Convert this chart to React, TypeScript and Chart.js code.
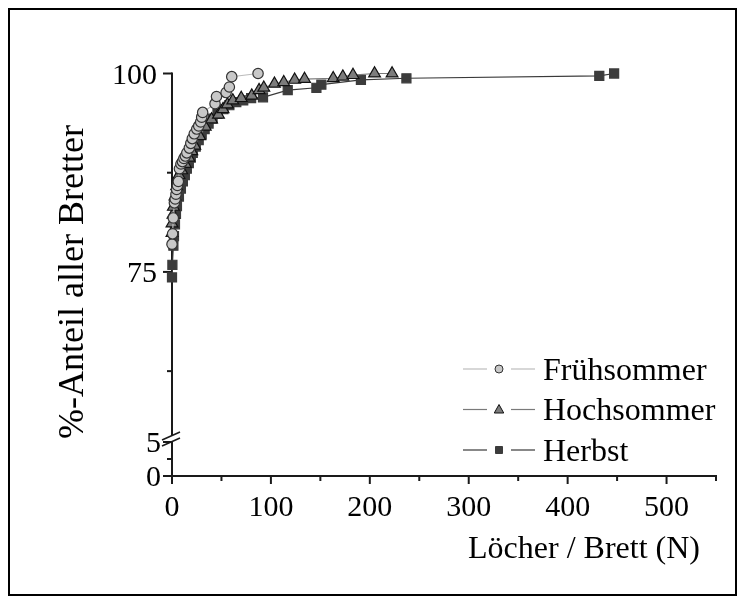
import React, { useEffect, useRef } from 'react';
import { Chart, registerables } from 'chart.js';

Chart.register(...registerables);

// ---------- data ----------
const SERIES_NAMES = ['Frühsommer', 'Hochsommer', 'Herbst'];

const FRUEH_X = [0, 0.6, 1.3, 2.4, 3.2, 4, 4.7, 5.5, 6.4, 7.5, 9, 10.5, 12, 13.5, 15, 17.5, 19, 20.5, 22.5, 25, 27, 29, 30, 31, 43.5, 45, 54.7, 58, 60.4, 87];
const FRUEH_Y = [78.5, 79.8, 81.8, 83.7, 84.2, 84.8, 85.4, 85.9, 86.4, 88.0, 88.6, 88.9, 89.3, 89.6, 90.0, 90.6, 91.2, 91.8, 92.4, 93.0, 93.4, 93.9, 94.5, 95.1, 96.2, 97.1, 97.6, 98.3, 99.6, 100];

const HOCH_X = [0, 0, 1, 1.4, 3, 4.7, 7, 9.8, 13.5, 17, 20, 23, 28, 33.6, 40, 47, 51.6, 56, 61.5, 70, 80.6, 88, 92.8, 103.6, 113, 124, 134, 163, 172.7, 183, 204.8, 222.5];
const HOCH_Y = [79.9, 81.1, 82.2, 83.2, 84.5, 85.8, 87.2, 87.8, 88.6, 89.4, 90.2, 90.9, 92.1, 93.3, 94.2, 94.8, 95.5, 96.1, 96.6, 96.9, 97.2, 97.9, 98.2, 98.7, 98.9, 99.2, 99.3, 99.4, 99.6, 99.8, 100, 100];

const HERBST_X = [0, 0.4, 1.4, 2, 3, 4, 5, 7, 9, 11, 13, 15, 17, 19, 21, 24, 27, 30, 33, 37, 41, 46, 52, 58, 65, 72, 80, 92, 117, 146, 151, 191, 237, 432, 447];
const HERBST_Y = [74.3, 75.9, 78.3, 79.5, 81, 82.3, 83.3, 84.5, 85.5, 86.4, 87.2, 88, 88.7, 89.4, 90, 90.8, 91.6, 92.3, 93, 93.7, 94.3, 94.9, 95.5, 96, 96.4, 96.6, 96.9, 97.0, 97.9, 98.2, 98.6, 99.2, 99.4, 99.7, 100];

// ---------- axes / ticks ----------
const X_MIN = 0;
const X_MAX = 550;
const X_MAJOR = [0, 100, 200, 300, 400, 500];
const X_MINOR = [50, 150, 250, 350, 450, 550];
const Y_TOP_MIN = 54;
const Y_TOP_MAX = 100;
const Y_TOP_MAJOR = [75, 100];
const Y_TOP_MINOR = [62.5, 87.5];
const Y_BOT_MIN = 0;
const Y_BOT_MAX = 5.5;
const Y_BOT_MAJOR = [0, 5];
const Y_BOT_MINOR = [2.5];
const X_TITLE = 'Löcher / Brett (N)';
const Y_TITLE = '%-Anteil aller Bretter';

// ---------- styles ----------
const FONT = '"Liberation Serif", "Times New Roman", Times, serif';
const AXIS_COLOR = '#1a1a1a';
const TEXT_COLOR = '#000000';
const STYLES = [
  { point: 'circle', fill: '#c8c8c8', border: '#333333', line: '#bcbcbc', radius: 5.2, legendR: 4 },
  { point: 'triangle', fill: '#7c7c7c', border: '#111111', line: '#7a7a7a', radius: 6.8, legendR: 5 },
  { point: 'rect', fill: '#3c3c3c', border: '#3c3c3c', line: '#3a3a3a', radius: 6.4, legendR: 5 },
];

function seg(ctx: CanvasRenderingContext2D, ax: number, ay: number, bx: number, by: number) {
  ctx.beginPath();
  ctx.moveTo(ax, ay);
  ctx.lineTo(bx, by);
  ctx.stroke();
}

function marker(ctx: CanvasRenderingContext2D, style: string, x: number, y: number, r: number, fill: string, border: string) {
  ctx.fillStyle = fill;
  ctx.strokeStyle = border;
  ctx.lineWidth = 1;
  ctx.beginPath();
  if (style === 'circle') {
    ctx.arc(x, y, r, 0, Math.PI * 2);
  } else if (style === 'triangle') {
    ctx.moveTo(x, y - r);
    ctx.lineTo(x + r * 0.95, y + r * 0.7);
    ctx.lineTo(x - r * 0.95, y + r * 0.7);
    ctx.closePath();
  } else {
    ctx.rect(x - r * 0.7, y - r * 0.7, r * 1.4, r * 1.4);
  }
  ctx.fill();
  ctx.stroke();
}

const axesPlugin = {
  id: 'customAxes',
  beforeDatasetsDraw(chart: any) {
    const ctx: CanvasRenderingContext2D = chart.ctx;
    const xs = chart.scales.x;
    const yt = chart.scales.yTop;
    const yb = chart.scales.yBot;
    const x0 = xs.getPixelForValue(X_MIN);
    const xEnd = xs.getPixelForValue(X_MAX);
    const yZero = yb.getPixelForValue(Y_BOT_MIN);
    const yTopPx = yt.getPixelForValue(Y_TOP_MAX);
    const bc = yt.bottom;
    ctx.save();
    ctx.strokeStyle = AXIS_COLOR;
    ctx.lineWidth = 2;
    // y axis (broken)
    seg(ctx, x0, yTopPx - 1, x0, bc - 3);
    seg(ctx, x0, bc + 3, x0, yZero + 1);
    // x axis
    seg(ctx, x0 - 1, yZero, xEnd + 1, yZero);
    // y ticks
    Y_TOP_MAJOR.forEach((v) => { const y = yt.getPixelForValue(v); seg(ctx, x0 - 9, y, x0, y); });
    Y_TOP_MINOR.forEach((v) => { const y = yt.getPixelForValue(v); seg(ctx, x0 - 5, y, x0, y); });
    Y_BOT_MAJOR.forEach((v) => { const y = yb.getPixelForValue(v); seg(ctx, x0 - 9, y, x0, y); });
    Y_BOT_MINOR.forEach((v) => { const y = yb.getPixelForValue(v); seg(ctx, x0 - 5, y, x0, y); });
    // x ticks
    X_MAJOR.forEach((v) => { const x = xs.getPixelForValue(v); seg(ctx, x, yZero, x, yZero + 8); });
    X_MINOR.forEach((v) => { const x = xs.getPixelForValue(v); seg(ctx, x, yZero, x, yZero + 5); });
    // break marks
    ctx.lineWidth = 1.6;
    seg(ctx, x0 - 10, bc + 1.5, x0 + 8, bc - 6.5);
    seg(ctx, x0 - 10, bc + 7.5, x0 + 8, bc - 0.5);
    ctx.restore();
  },
  afterDraw(chart: any) {
    const ctx: CanvasRenderingContext2D = chart.ctx;
    const xs = chart.scales.x;
    const yt = chart.scales.yTop;
    const yb = chart.scales.yBot;
    const x0 = xs.getPixelForValue(X_MIN);
    const yZero = yb.getPixelForValue(Y_BOT_MIN);
    ctx.save();
    ctx.fillStyle = TEXT_COLOR;
    ctx.font = '30px ' + FONT;
    ctx.textBaseline = 'alphabetic';
    // y tick labels
    ctx.textAlign = 'right';
    Y_TOP_MAJOR.forEach((v) => ctx.fillText(String(v), x0 - 15, yt.getPixelForValue(v) + 10));
    Y_BOT_MAJOR.forEach((v) => ctx.fillText(String(v), x0 - 11, yb.getPixelForValue(v) + 10));
    // x tick labels
    ctx.textAlign = 'center';
    X_MAJOR.forEach((v) => ctx.fillText(String(v), xs.getPixelForValue(v), yZero + 40));
    // x title
    ctx.font = '32px ' + FONT;
    ctx.fillText(X_TITLE, 574, 547.5);
    // y title
    ctx.save();
    ctx.translate(73, 272);
    ctx.rotate(-Math.PI / 2);
    ctx.font = '36px ' + FONT;
    ctx.textAlign = 'center';
    ctx.fillText(Y_TITLE, 0, 0);
    ctx.restore();
    // legend
    SERIES_NAMES.forEach((name, i) => {
      const st = STYLES[i];
      const cy = 359 + i * 40.5;
      ctx.strokeStyle = st.line;
      ctx.lineWidth = 1.2;
      seg(ctx, 453, cy, 477, cy);
      seg(ctx, 501, cy, 525, cy);
      marker(ctx, st.point, 489, cy, st.legendR, st.fill, st.border);
      ctx.fillStyle = TEXT_COLOR;
      ctx.font = '32px ' + FONT;
      ctx.textAlign = 'left';
      ctx.fillText(name, 533, cy + 10.5);
    });
    ctx.restore();
  },
};

function points(xs: number[], ys: number[]) {
  return xs.map((x, i) => ({ x, y: ys[i] }));
}

export default function App() {
  const ref = useRef<HTMLCanvasElement>(null);
  useEffect(() => {
    const seriesData = [points(FRUEH_X, FRUEH_Y), points(HOCH_X, HOCH_Y), points(HERBST_X, HERBST_Y)];
    const chart = new Chart(ref.current as HTMLCanvasElement, {
      type: 'scatter',
      data: {
        datasets: SERIES_NAMES.map((name, i) => ({
          label: name,
          data: seriesData[i],
          yAxisID: 'yTop',
          showLine: true,
          borderColor: STYLES[i].line,
          borderWidth: 1.2,
          pointStyle: STYLES[i].point as any,
          pointRadius: STYLES[i].radius,
          pointBackgroundColor: STYLES[i].fill,
          pointBorderColor: STYLES[i].border,
          pointBorderWidth: 1.2,
          clip: false as any,
          order: i,
        })),
      },
      options: {
        responsive: false,
        animation: false,
        layout: { padding: { left: 162, right: 19, top: 63.5, bottom: 118 } },
        plugins: { legend: { display: false }, tooltip: { enabled: false } },
        scales: {
          x: { type: 'linear', min: X_MIN, max: X_MAX, display: false },
          yTop: { type: 'linear', position: 'left', stack: 'ystack', stackWeight: 365, weight: 1, min: Y_TOP_MIN, max: Y_TOP_MAX, display: false },
          yBot: { type: 'linear', position: 'left', stack: 'ystack', stackWeight: 37.4, weight: 0, min: Y_BOT_MIN, max: Y_BOT_MAX, display: false },
        } as any,
      },
      plugins: [axesPlugin as any],
    });
    return () => chart.destroy();
  }, []);
  return (
    <div style={{ width: 729, height: 588, boxSizing: 'border-box', border: '2px solid #000', background: '#fff' }}>
      <canvas ref={ref} width={725} height={584} style={{ display: 'block', width: 725, height: 584 }} />
    </div>
  );
}
